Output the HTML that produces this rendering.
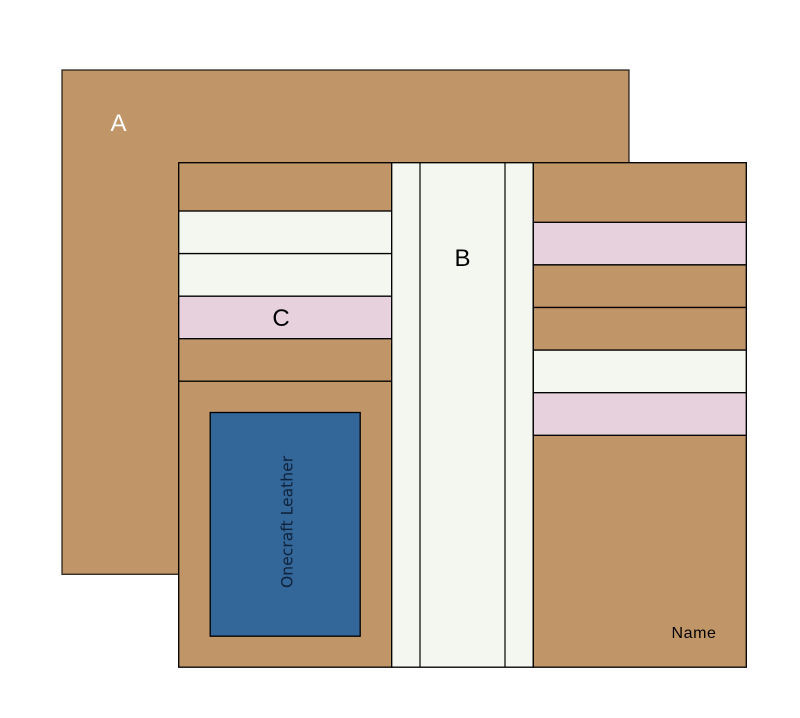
<!DOCTYPE html>
<html>
<head>
<meta charset="utf-8">
<style>
html,body{margin:0;padding:0;background:#fff;width:800px;height:718px;overflow:hidden}
svg{display:block}
text{font-family:"Liberation Sans",sans-serif}
</style>
</head>
<body>
<svg width="800" height="718" viewBox="0 0 800 718" xmlns="http://www.w3.org/2000/svg">
<g stroke="#000" stroke-width="1.33">
<rect x="62" y="70" width="567" height="504.3" fill="#c09669" stroke-opacity=".8"/>
<rect x="178.7" y="162.7" width="213" height="504.5" fill="#c09669"/>
<rect x="178.7" y="211" width="213" height="42.6" fill="#f4f7ef"/>
<rect x="178.7" y="253.6" width="213" height="42.6" fill="#f4f7ef"/>
<rect x="178.7" y="296.2" width="213" height="42.5" fill="#e6d1dc"/>
<rect x="178.7" y="338.7" width="213" height="42.5" fill="#c09669"/>
<rect x="391.7" y="162.7" width="141.6" height="504.5" fill="#f4f7ef"/>
<line x1="420" y1="162.7" x2="420" y2="667.2" stroke-width="1.6" stroke-opacity=".75"/>
<line x1="505" y1="162.7" x2="505" y2="667.2" stroke-width="1.6" stroke-opacity=".75"/>
<rect x="533.3" y="162.7" width="213" height="504.5" fill="#c09669"/>
<rect x="533.3" y="222.3" width="213" height="42.6" fill="#e6d1dc"/>
<rect x="533.3" y="264.9" width="213" height="42.6" fill="#c09669"/>
<rect x="533.3" y="307.5" width="213" height="42.6" fill="#c09669"/>
<rect x="533.3" y="350.1" width="213" height="42.6" fill="#f4f7ef"/>
<rect x="533.3" y="392.7" width="213" height="42.6" fill="#e6d1dc"/>
<rect x="210.2" y="412.5" width="150" height="223.7" fill="#336699"/>
</g>
<text x="118.5" y="131" font-size="24" fill="#fff" text-anchor="middle">A</text>
<text x="462.5" y="266" font-size="24" fill="#000" text-anchor="middle">B</text>
<text x="281" y="326" font-size="24" fill="#000" text-anchor="middle">C</text>
<text x="694" y="638" font-size="16" letter-spacing=".55" fill="#000" text-anchor="middle">Name</text>
<text transform="translate(292.5 588) rotate(-90)" font-size="15.6" fill="#10233c" style="font-family:'DejaVu Sans',sans-serif">Onecraft Leather</text>
</svg>
</body>
</html>
